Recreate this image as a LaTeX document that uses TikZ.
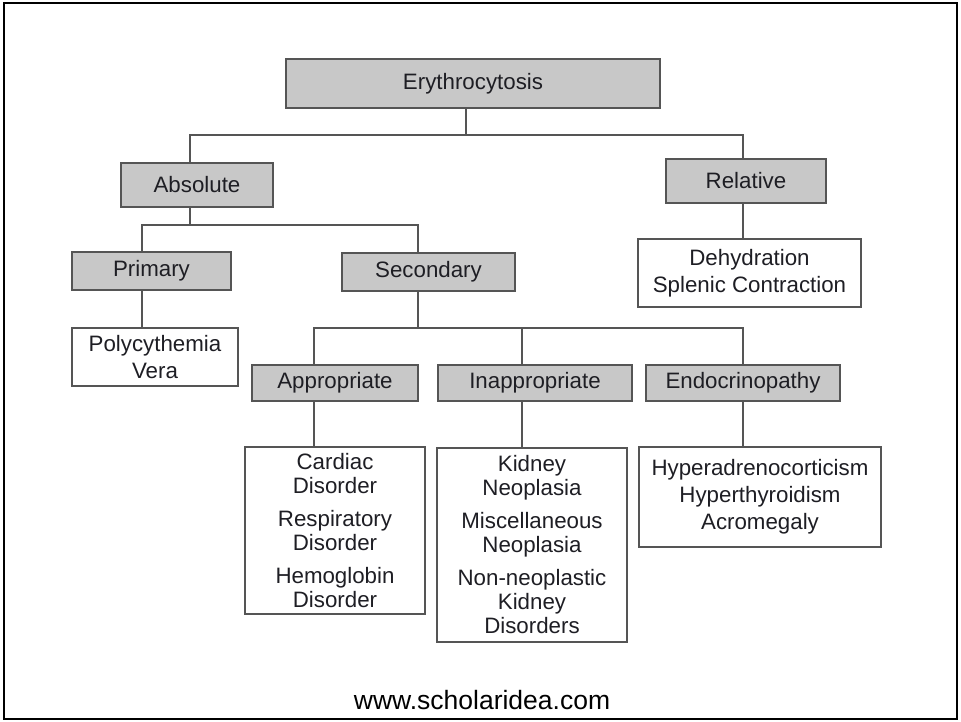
\documentclass[tikz,border=0pt]{standalone}
\usepackage{fontspec}
\setmainfont{Liberation Sans}
\definecolor{boxfill}{RGB}{200,200,200}
\definecolor{boxline}{RGB}{85,85,85}
\definecolor{txt}{RGB}{30,30,36}
\begin{document}
\begin{tikzpicture}[x=1pt,y=-1pt,
  base/.style={draw=boxline,line width=1.4pt,inner sep=0pt,text=txt,align=center,
    font=\fontsize{22.3}{27}\selectfont},
  graybox/.style={base,fill=boxfill},
  whitebox/.style={base,fill=white},
  conn/.style={draw=boxline,line width=1.4pt}]
\useasboundingbox (0,0) rectangle (961,721);
\draw[line width=2.5pt,black] (4,3) rectangle (957,719);

\node[graybox,minimum width=374pt,minimum height=49pt] (ery) at (473,83.5) {Erythrocytosis};
\node[graybox,minimum width=152pt,minimum height=44pt] (abs) at (197,185) {Absolute};
\node[graybox,minimum width=160pt,minimum height=44pt] (rel) at (746,181) {Relative};
\node[whitebox,minimum width=223pt,minimum height=68pt] (deh) at (749.5,273) {Dehydration\\Splenic Contraction};
\node[graybox,minimum width=159pt,minimum height=38pt] (pri) at (151.5,271) {Primary};
\node[graybox,minimum width=173pt,minimum height=38pt] (sec) at (428.5,272) {Secondary};
\node[whitebox,minimum width=166pt,minimum height=58pt] (poly) at (155,357) {Polycythemia\\Vera};
\node[graybox,minimum width=166pt,minimum height=36pt] (app) at (335,383) {Appropriate};
\node[graybox,minimum width=194pt,minimum height=36pt] (inapp) at (535,383) {Inappropriate};
\node[graybox,minimum width=194pt,minimum height=36pt] (endo) at (743,383) {Endocrinopathy};
\node[whitebox,minimum width=180pt,minimum height=167pt,font=\fontsize{22.3}{24}\selectfont] (card) at (335,530.5)
  {Cardiac\\Disorder\\[9pt]Respiratory\\Disorder\\[9pt]Hemoglobin\\Disorder};
\node[whitebox,minimum width=190pt,minimum height=194pt,font=\fontsize{22.3}{24}\selectfont] (kid) at (532,545)
  {Kidney\\Neoplasia\\[9pt]Miscellaneous\\Neoplasia\\[9pt]Non-neoplastic\\Kidney\\Disorders};
\node[whitebox,minimum width=242pt,minimum height=100pt] (hyp) at (760,497)
  {Hyperadrenocorticism\\Hyperthyroidism\\Acromegaly};

\node[text=black,font=\fontsize{26.5}{30}\selectfont,inner sep=0pt] (web) at (482,700) {www.scholaridea.com};

% level 1
\coordinate (b1) at (466,135);
\coordinate (b1L) at (190,135);
\coordinate (b1R) at (743,135);
\draw[conn] (ery.south -| b1) -- (b1);
\draw[conn] (abs.north -| b1L) -- (b1L) -- (b1R) -- (rel.north -| b1R);
\draw[conn] (rel.south -| b1R) -- (deh.north -| b1R);
% level 2
\coordinate (b2) at (190,225);
\coordinate (b2L) at (142,225);
\coordinate (b2R) at (418,225);
\draw[conn] (abs.south -| b2) -- (b2);
\draw[conn] (pri.north -| b2L) -- (b2L) -- (b2R) -- (sec.north -| b2R);
\draw[conn] (pri.south -| b2L) -- (poly.north -| b2L);
% level 3
\coordinate (b3) at (418,328);
\coordinate (b3L) at (314,328);
\coordinate (b3M) at (522,328);
\coordinate (b3R) at (743,328);
\draw[conn] (sec.south -| b3) -- (b3);
\draw[conn] (app.north -| b3L) -- (b3L) -- (b3R) -- (endo.north -| b3R);
\draw[conn] (b3M) -- (inapp.north -| b3M);
\draw[conn] (app.south -| b3L) -- (card.north -| b3L);
\draw[conn] (inapp.south -| b3M) -- (kid.north -| b3M);
\draw[conn] (endo.south -| b3R) -- (hyp.north -| b3R);
\end{tikzpicture}
\end{document}
